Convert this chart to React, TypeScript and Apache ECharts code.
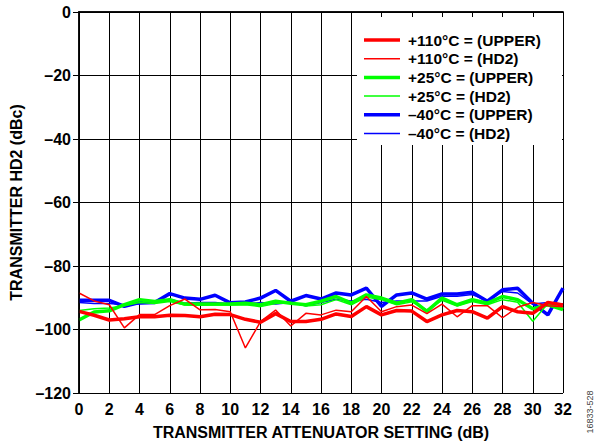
import React, { useEffect, useRef } from "react";
import * as echarts from "echarts";

const attenuation = [0, 1, 2, 3, 4, 5, 6, 7, 8, 9, 10, 11, 12, 13, 14, 15, 16, 17, 18, 19, 20, 21, 22, 23, 24, 25, 26, 27, 28, 29, 30, 31, 32];

const hot_upper = [-94.3, -95.5, -97, -96.6, -96, -96, -95.5, -95.6, -96, -95.2, -95.3, -96.8, -97.7, -95, -97.5, -97.5, -96.8, -95.1, -95.9, -92.8, -95.4, -94, -94.2, -97.5, -95.4, -94, -94.4, -96.4, -92.8, -94.4, -94.9, -91.5, -92.3];
const hot_hd2 = [-88.5, -91, -92.2, -99.5, -95.3, -95.3, -92.5, -90.4, -93.8, -93.7, -94.4, -105.8, -97.5, -93.9, -98.9, -94.9, -95.4, -93.9, -94.4, -89.6, -94.4, -92.8, -92.3, -95, -92, -96, -92.5, -92.5, -96.3, -93, -91.5, -92.5, -92.8];
const room_upper = [-97, -94.5, -94.1, -92.2, -90.6, -91.2, -90.6, -92, -92, -92, -92, -91.7, -92.2, -91.1, -91.7, -92.2, -91.1, -89.6, -91.7, -89.1, -90.1, -91.7, -90.6, -94.3, -90.1, -92.2, -90.6, -91.7, -89.6, -90.6, -93.5, -92.2, -93.7];
const room_hd2 = [-94, -93.5, -93.2, -92.5, -91.5, -91.8, -91.2, -92.3, -92.4, -92.3, -92.3, -92.2, -92.8, -91.8, -91.5, -92.6, -92.2, -90.6, -92.2, -89.8, -90.6, -92.2, -91.3, -93.8, -90.8, -92.6, -91.2, -92.2, -90.6, -91.4, -97.4, -91.8, -93.4];
const cold_upper = [-90.8, -90.8, -90.8, -92.7, -91.5, -91.5, -88.7, -90.1, -90.5, -89.2, -91.6, -91.3, -90.1, -87.7, -91.1, -89.3, -90.4, -88.5, -89.1, -87, -92.7, -89.1, -88.5, -90.4, -88.8, -88.8, -88.3, -91.1, -87.5, -87, -91.7, -95.4, -87];
const cold_hd2 = [-91.5, -91.8, -91.8, -92.2, -92, -91.7, -90.5, -91.7, -91.5, -91.5, -92, -92, -91.5, -92, -91.5, -92.5, -91.5, -90.5, -91, -90.5, -91.5, -91, -91, -91, -89.5, -89.5, -89, -91, -88, -88.5, -92, -91.5, -92];

const seriesNames = ["+110°C = (UPPER)", "+110°C = (HD2)", "+25°C = (UPPER)", "+25°C = (HD2)", "–40°C = (UPPER)", "–40°C = (HD2)"];
const seriesColors = ["#FF0000", "#FF0000", "#00FF00", "#00FF00", "#0000FF", "#0000FF"];
const seriesWidths = [3.5, 1.5, 3.5, 1.5, 3.5, 1.5];
const seriesValues = [hot_upper, hot_hd2, room_upper, room_hd2, cold_upper, cold_hd2];
const drawOrder = [4, 5, 2, 3, 0, 1];

const FONT = "Arial, 'Liberation Sans', Helvetica, sans-serif";
const fmt = (v: number) => (v < 0 ? "–" + Math.abs(v) : String(v));

export default function App() {
  const ref = useRef<HTMLDivElement>(null);
  useEffect(() => {
    const chart = echarts.init(ref.current!, null, { renderer: "svg" });
    const legendTop = 40;
    const legendStep = 18.7;
    const legendGraphics: any[] = [];
    seriesNames.forEach((name, i) => {
      const y = legendTop + i * legendStep;
      legendGraphics.push({
        type: "line",
        z: 6,
        shape: { x1: 364, y1: y, x2: 400, y2: y },
        style: { stroke: seriesColors[i], lineWidth: seriesWidths[i] },
      });
      legendGraphics.push({
        type: "text",
        z: 6,
        x: 408,
        y: y,
        style: {
          text: name,
          fill: "#000",
          font: `bold 15.5px ${FONT}`,
          verticalAlign: "middle",
          align: "left",
        },
      });
    });
    const option: any = {
      animation: false,
      backgroundColor: "#fff",
      grid: { left: 79, right: 35, top: 12, bottom: 53, containLabel: false },
      xAxis: [
        {
          type: "value",
          min: 0,
          max: 32,
          interval: 2,
          position: "bottom",
          name: "TRANSMITTER ATTENUATOR SETTING (dB)",
          nameLocation: "middle",
          nameGap: 31,
          nameTextStyle: { fontFamily: FONT, fontWeight: "bold", fontSize: 16, color: "#000" },
          axisLine: { show: true, lineStyle: { color: "#000", width: 1.5 } },
          axisTick: { show: false },
          splitLine: { show: true, lineStyle: { color: "#000", width: 1 } },
          axisLabel: { fontFamily: FONT, fontWeight: "bold", fontSize: 16, color: "#000", margin: 8 },
        },
        {
          type: "value",
          min: 0,
          max: 32,
          interval: 2,
          position: "top",
          z: 4,
          axisLine: { show: true, lineStyle: { color: "#000", width: 1.5 } },
          axisTick: { show: true, inside: true, length: 5, lineStyle: { color: "#000", width: 1 } },
          splitLine: { show: false },
          axisLabel: { show: false },
        },
      ],
      yAxis: [
        {
          type: "value",
          min: -120,
          max: 0,
          interval: 20,
          position: "left",
          name: "TRANSMITTER HD2 (dBc)",
          nameLocation: "middle",
          nameGap: 55,
          nameTextStyle: { fontFamily: FONT, fontWeight: "bold", fontSize: 16, color: "#000" },
          axisLine: { show: true, lineStyle: { color: "#000", width: 1.5 } },
          axisTick: { show: false },
          splitLine: { show: true, lineStyle: { color: "#000", width: 1 } },
          axisLabel: { fontFamily: FONT, fontWeight: "bold", fontSize: 16, color: "#000", margin: 8, formatter: fmt },
        },
        {
          type: "value",
          min: -120,
          max: 0,
          interval: 20,
          position: "right",
          z: 4,
          axisLine: { show: true, lineStyle: { color: "#000", width: 1.5 } },
          axisTick: { show: true, inside: true, length: 6, lineStyle: { color: "#000", width: 1 } },
          splitLine: { show: false },
          axisLabel: { show: false },
        },
      ],
      series: drawOrder.map((i) => ({
        name: seriesNames[i],
        type: "line",
        xAxisIndex: 0,
        yAxisIndex: 0,
        symbol: "none",
        showSymbol: false,
        lineStyle: { color: seriesColors[i], width: seriesWidths[i] },
        itemStyle: { color: seriesColors[i] },
        data: attenuation.map((x, k) => [x, seriesValues[i][k]]),
        z: 2,
      })),
      graphic: [
        {
          type: "rect",
          z: 3,
          shape: { x: 357, y: 13, width: 205, height: 132 },
          style: { fill: "#fff" },
        },
        ...legendGraphics,
        {
          type: "text",
          z: 6,
          x: 590,
          y: 412,
          rotation: Math.PI / 2,
          style: {
            text: "16833-528",
            fill: "#444",
            font: `9px ${FONT}`,
            align: "center",
            verticalAlign: "middle",
          },
        },
      ],
    };
    chart.setOption(option);
    return () => chart.dispose();
  }, []);
  return <div ref={ref} style={{ width: 598, height: 446, position: "absolute", left: 0, top: 0 }} />;
}
